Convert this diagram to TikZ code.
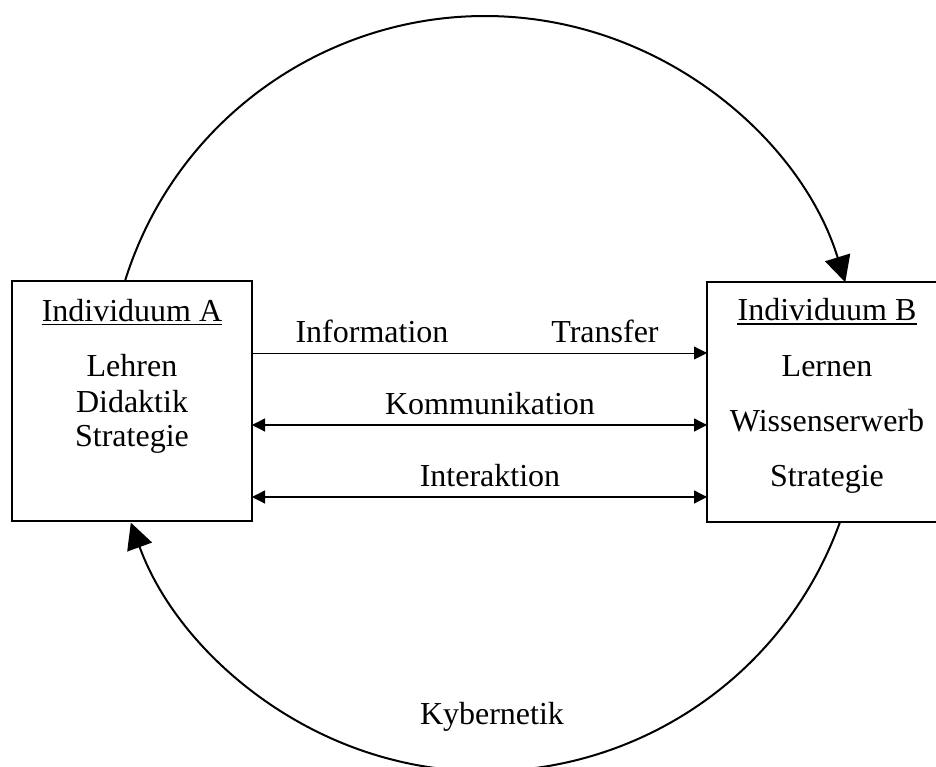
\documentclass[tikz,border=0pt]{standalone}
\usepackage{fontspec}
\setmainfont{Liberation Serif}
\usetikzlibrary{arrows.meta}
\begin{document}
\begin{tikzpicture}[x=1pt,y=1pt,
  box/.style={draw, line width=2pt, minimum width=240pt, minimum height=240pt, inner sep=0pt, outer sep=0pt},
  txt/.style={font=\fontsize{32}{38}\selectfont, inner sep=0pt, anchor=base},
  uline/.style={line width=1.8pt},
  thinflow/.style={line width=0.9pt, -{Triangle[length=13pt,width=13pt]}},
  both/.style={line width=1.3pt, {Triangle[length=13pt,width=13pt]}-{Triangle[length=13pt,width=13pt]}},
  cyc/.style={line width=2pt, -{Triangle[length=26pt,width=26pt]}}
]
\useasboundingbox (0,0) rectangle (936,767);
\begin{scope}
\clip (0,0) rectangle (936,767);
% boxes
\node[box] (A) at (132,366) {};
\node[box] (B) at (827,365) {};
% box texts
\node[txt] (ia) at (132,445) {Individuum A};
\draw[uline] ([yshift=-2.5pt]ia.base west) -- ([yshift=-2.5pt]ia.base east);
\node[txt] (a1) at (132,390) {Lehren};
\node[txt] (a2) at (132,354) {Didaktik};
\node[txt] (a3) at (132,320) {Strategie};
\node[txt] (ib) at (827,446) {Individuum B};
\draw[uline] ([yshift=-3pt]ib.base west) -- ([yshift=-3pt]ib.base east);
\node[txt] (b1) at (827,390) {Lernen};
\node[txt] (b2) at (827,335) {Wissenserwerb};
\node[txt] (b3) at (827,280) {Strategie};
% horizontal connectors
\draw[thinflow] (A.east |- 0,414) -- (B.west |- 0,414);
\draw[both] (A.east |- 0,342) -- (B.west |- 0,342);
\draw[both] (A.east |- 0,270) -- (B.west |- 0,270);
\node[txt] (linfo) at (372,424) {Information};
\node[txt] (ltrans) at (605,424) {Transfer};
\node[txt] (lkomm) at (490,352) {Kommunikation};
\node[txt] (linter) at (490,280) {Interaktion};
% cycle arcs
\draw[cyc] ([xshift=113pt]A.north west) arc[start angle=162.7, end angle=17.1, radius=377pt];
\draw[cyc] ([xshift=133pt]B.south west) arc[start angle=-19.8, end angle=-160.1, radius=377pt];
\node[txt] (lkyb) at (492,42) {Kybernetik};
\end{scope}
\end{tikzpicture}
\end{document}
